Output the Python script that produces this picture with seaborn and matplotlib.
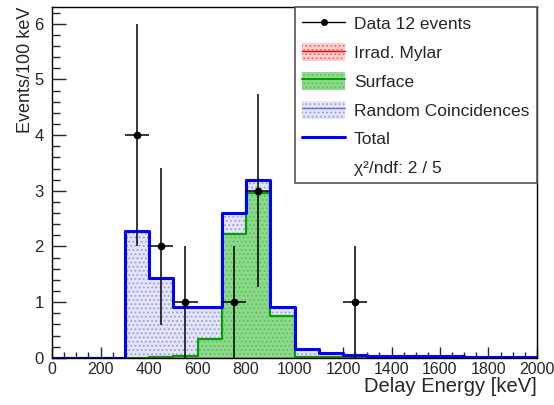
import numpy as np
import pandas as pd
import matplotlib
matplotlib.use("Agg")
import matplotlib.pyplot as plt
import seaborn as sns
from matplotlib.lines import Line2D
from matplotlib.patches import Patch
from matplotlib.ticker import MultipleLocator

# bins: 100 keV wide, 0 - 2000 keV
bin_edges = list(range(0, 2001, 100))
bin_centers = [e + 50 for e in bin_edges[:-1]]

# stacked components (events / 100 keV)
mylar = np.array([0, 0, 0, 0, 0, 0, 0, 0, 0, 0,
                  0, 0, 0, 0, 0, 0, 0, 0, 0, 0], dtype=float)
surface = np.array([0, 0, 0, 0, 0.01, 0.03, 0.33, 2.22, 2.96, 0.75,
                    0.02, 0.01, 0, 0, 0, 0, 0, 0, 0, 0])
random_coinc = np.array([0, 0, 0, 2.27, 1.42, 0.89, 0.59, 0.38, 0.24, 0.17,
                         0.13, 0.07, 0.05, 0.04, 0.035, 0.03, 0.025, 0.02, 0.02, 0.015])

# data points
data_x = [350, 450, 550, 750, 850, 1250]
data_y = [4, 2, 1, 1, 3, 1]
data_yerr = [2.0, 1.414, 1.0, 1.0, 1.732, 1.0]
data_xerr = [50, 50, 50, 50, 50, 50]

sns.set_style("ticks")
plt.rcParams['font.family'] = ['Liberation Sans', 'DejaVu Sans']
plt.rcParams['hatch.linewidth'] = 0.8

fig = plt.figure(figsize=(5.54, 4.05), dpi=100)
ax = fig.add_axes([0.0939, 0.1165, 0.8754, 0.866])


def step_hist(heights, **kw):
    df = pd.DataFrame({"E": bin_centers, "w": heights})
    sns.histplot(data=df, x="E", weights="w", bins=bin_edges, element='step', ax=ax, **kw)


# colours: (face, hatch colour, hatch, outline, outline width)
sty_random = ('#e4e4f7', '#9c9ce2', '....', '#4848c8', 1.0)
sty_surface = ('#8cd98c', '#5ec35e', '....', '#00a000', 1.6)
sty_mylar = ('#ffd0d0', '#ff6060', '....', '#ff0000', 1.0)

# draw the stack from the top down so each layer covers the one below
layers = [
    (mylar + surface + random_coinc, sty_random),
    (mylar + surface, sty_surface),
    (mylar, sty_mylar),
]
for heights, (face, hcol, hatch, edge, lw) in layers:
    step_hist(heights, fill=True)
    poly = ax.collections[-1]
    poly.set_facecolor(face)
    poly.set_alpha(1)
    poly.set_edgecolor(hcol)
    poly.set_hatch(hatch)
    poly.set_linewidth(0)
    # outline of the layer
    step_hist(heights, fill=False, color=edge, linewidth=lw)

total = mylar + surface + random_coinc
step_hist(total, fill=False, color='#0000ff', linewidth=2.2)

ax.errorbar(data_x, data_y, xerr=data_xerr, yerr=data_yerr, fmt='o', color='black',
            ms=4.5, elinewidth=1.1, capsize=0, zorder=10)

ax.set_xlim(0, 2000)
ax.set_ylim(0, 6.3)
ax.xaxis.set_major_locator(MultipleLocator(200))
ax.xaxis.set_minor_locator(MultipleLocator(50))
ax.yaxis.set_major_locator(MultipleLocator(1))
ax.yaxis.set_minor_locator(MultipleLocator(0.2))
ax.tick_params(axis='x', which='major', direction='in', length=7.7, width=1, labelsize=11.5, pad=3)
ax.tick_params(axis='x', which='minor', direction='in', length=4, width=1)
ax.tick_params(axis='y', which='major', direction='in', length=10.4, width=1, labelsize=12, pad=6)
ax.tick_params(axis='y', which='minor', direction='in', length=5.4, width=1)
for s in ax.spines.values():
    s.set_visible(True)
    s.set_linewidth(1)
    s.set_color('black')

ax.set_xlabel("Delay Energy [keV]", fontsize=14.5, ha='right')
ax.set_ylabel("Events/100 keV", fontsize=13, ha='right')
ax.xaxis.set_label_coords(1.0, -0.056)
ax.yaxis.set_label_coords(-0.038, 1.0)

handles = [
    Line2D([], [], color='black', marker='o', ms=4, lw=1),
    (Patch(facecolor=sty_mylar[0], edgecolor=sty_mylar[1], hatch='....', lw=0),
     Line2D([], [], color=sty_mylar[3], lw=1)),
    (Patch(facecolor=sty_surface[0], edgecolor=sty_surface[1], hatch='....', lw=0),
     Line2D([], [], color=sty_surface[3], lw=1.5)),
    (Patch(facecolor=sty_random[0], edgecolor=sty_random[1], hatch='....', lw=0),
     Line2D([], [], color='#6a6ad0', lw=1)),
    Line2D([], [], color='#0000ff', lw=2.2),
    Line2D([], [], color='none'),
]
labels = ["Data 12 events", "Irrad. Mylar", "Surface", "Random Coincidences",
          "Total", "\u03c7\u00b2/ndf: 2 / 5"]
leg = ax.legend(handles, labels, loc='upper right', bbox_to_anchor=(0.5, 0.5, 0.5, 0.5),
                mode='expand', fontsize=12.5, frameon=True, fancybox=False,
                edgecolor='#555555', framealpha=1, borderaxespad=0,
                handlelength=2.5, handleheight=1.2, handletextpad=0.5,
                labelspacing=0.63, borderpad=0.43)
leg.get_frame().set_linewidth(1.2)

fig.savefig("out.png", dpi=100)
